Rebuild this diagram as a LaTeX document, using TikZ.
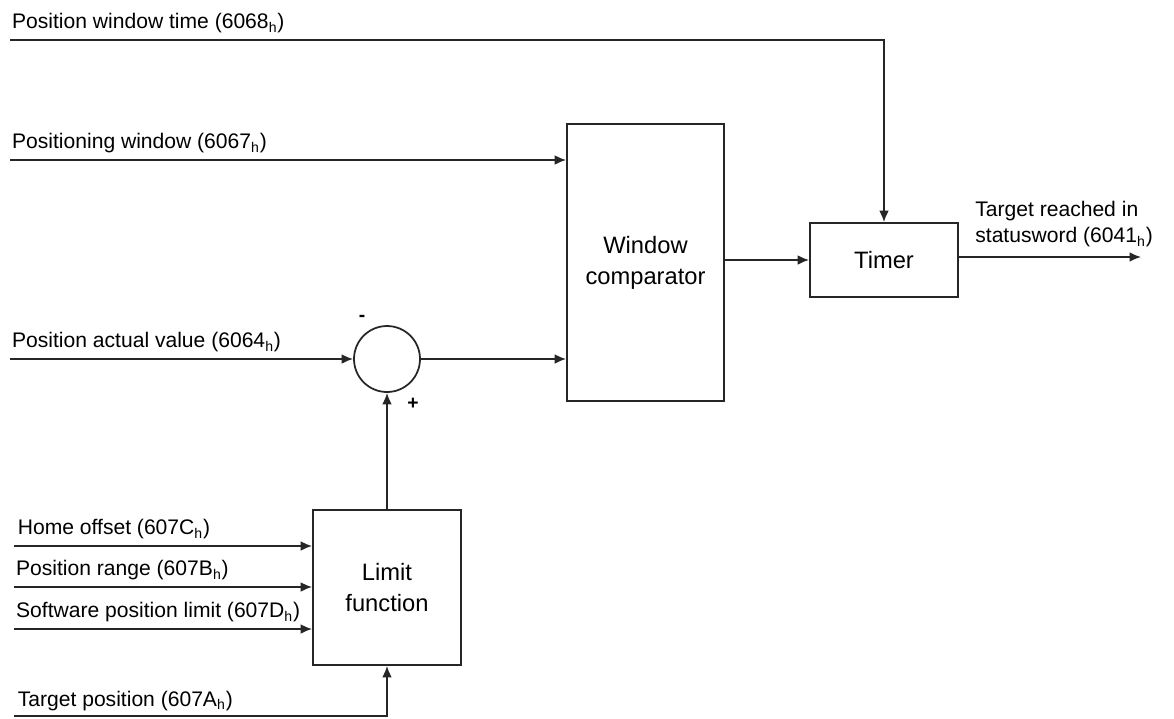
\documentclass[tikz,border=0pt]{standalone}
\usepackage{fontspec}
\setmainfont{Liberation Sans}
\usetikzlibrary{arrows.meta,positioning,shapes.geometric}

\begin{document}
\begin{tikzpicture}[
x=0.02cm, y=-0.02cm,
box/.style={draw=black!85, line width=1pt, align=center, inner sep=0pt, font=\fontsize{13.5}{17.5}\selectfont},
lbl/.style={inner sep=0pt, font=\fontsize{12}{15}\selectfont},
sign/.style={inner sep=0pt, font=\fontsize{11}{13}\selectfont\bfseries},
arrow/.style={-{Latex[length=6.5pt,width=5.5pt]}, draw=black!85, line width=0.95pt}
]
\useasboundingbox (0,0) rectangle (1174,718);

% blocks
\node[box, minimum width=3.14cm, minimum height=5.54cm] (cmp) at (645.5,262.5) {Window\\comparator};
\node[box, minimum width=2.96cm, minimum height=1.48cm] (timer) at (884,260) {Timer};
\node[box, minimum width=2.96cm, minimum height=3.1cm] (limit) at (387,587.5) {Limit\\function};
\node[draw=black!85, line width=1pt, circle, minimum size=1.32cm, inner sep=0pt] (sum) at (387,359) {};
\node[sign] (minus) at (362,318) {-};
\node[sign] (plus) at (413,404) {+};

% free ends of the inputs and the output
\coordinate (pwt) at (10,40);
\coordinate (pw) at (10,160);
\coordinate (pav) at (10,359);
\coordinate (ho) at (14,546);
\coordinate (pr) at (14,587);
\coordinate (spl) at (14,629);
\coordinate (tp) at (14,716);
\coordinate (out) at (1141,257);

% input labels
\node[lbl, anchor=base west] (pwtl) at ([xshift=1pt,yshift=6.3pt]pwt) {Position window time (6068\textsubscript{h})};
\node[lbl, anchor=base west] (pwl) at ([xshift=1pt,yshift=6.3pt]pw) {Positioning window (6067\textsubscript{h})};
\node[lbl, anchor=base west] (pavl) at ([xshift=1pt,yshift=6.3pt]pav) {Position actual value (6064\textsubscript{h})};
\node[lbl, anchor=base west] (hol) at ([xshift=2pt,yshift=6.3pt]ho) {Home offset (607C\textsubscript{h})};
\node[lbl, anchor=base west] (prl) at ([xshift=1pt,yshift=6.3pt]pr) {Position range (607B\textsubscript{h})};
\node[lbl, anchor=base west] (spll) at ([xshift=1pt,yshift=6.3pt]spl) {Software position limit (607D\textsubscript{h})};
\node[lbl, anchor=base west] (tpl) at ([xshift=2pt,yshift=5.5pt]tp) {Target position (607A\textsubscript{h})};
\node[lbl, align=left, anchor=north west] (outl) at (975,201) {Target reached in\\statusword (6041\textsubscript{h})};

% connections
\draw[arrow] (pwt) -| (timer.north);
\draw[arrow] (pw) -- (pw -| cmp.west);
\draw[arrow] (pav) -- (sum.west);
\draw[arrow] (sum.east) -- (sum.east -| cmp.west);
\draw[arrow] (cmp.east |- timer) -- (timer.west);
\draw[arrow] (timer.east |- out) -- (out);
\draw[arrow] (limit.north) -- (sum.south);
\draw[arrow] (ho) -- (ho -| limit.west);
\draw[arrow] (pr) -- (pr -| limit.west);
\draw[arrow] (spl) -- (spl -| limit.west);
\draw[arrow] (tp) -| (limit.south);
\end{tikzpicture}
\end{document}
